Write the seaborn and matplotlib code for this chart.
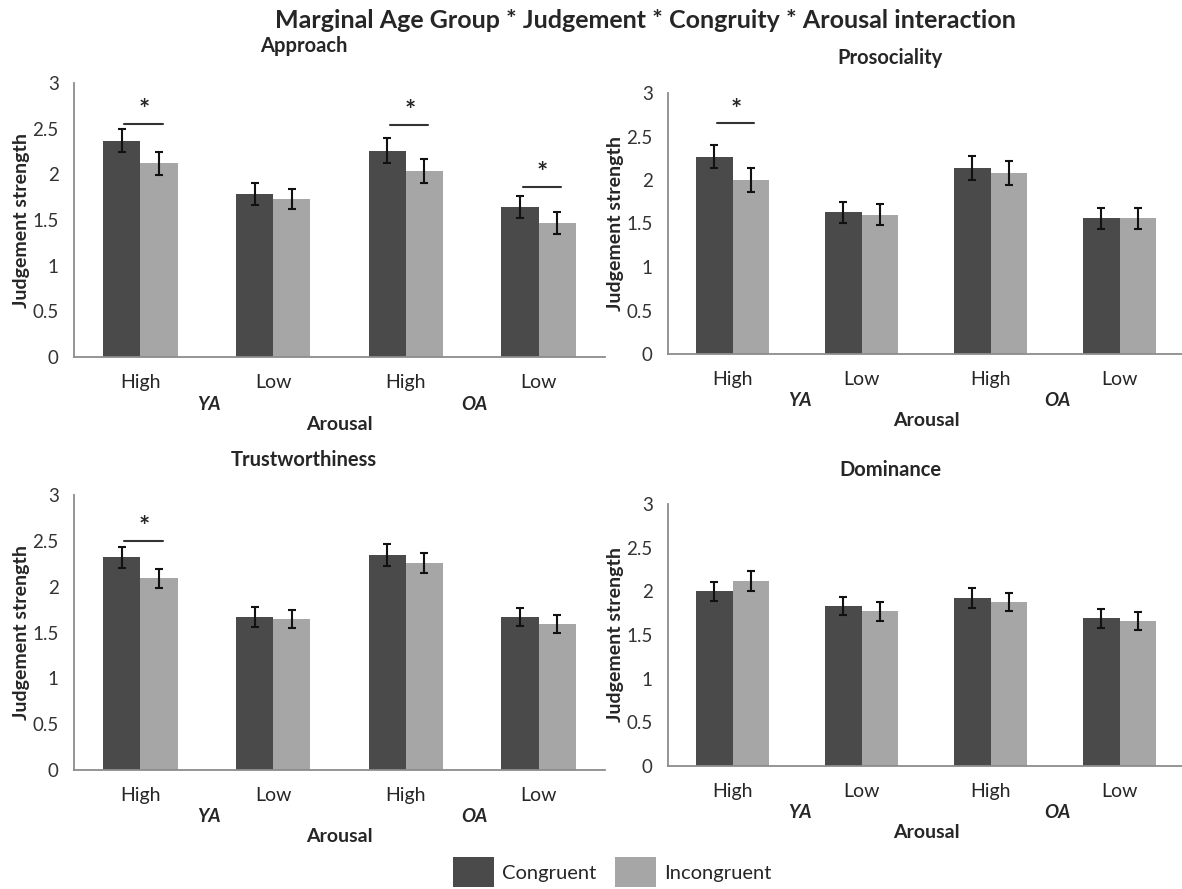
import matplotlib
matplotlib.use("Agg")
import matplotlib.pyplot as plt
from matplotlib.patches import Patch
import seaborn as sns
import pandas as pd

# ---- data ----
panels = ["Approach", "Prosociality", "Trustworthiness", "Dominance"]
age_groups = ["YA", "YA", "OA", "OA"]
arousal = ["High", "Low", "High", "Low"]
congruity = ["Congruent", "Incongruent"]

approach_cong = [2.37, 1.78, 2.26, 1.64]
approach_incong = [2.12, 1.73, 2.04, 1.47]
approach_cong_err = [0.13, 0.12, 0.14, 0.12]
approach_incong_err = [0.13, 0.11, 0.13, 0.12]

prosocial_cong = [2.27, 1.63, 2.14, 1.56]
prosocial_incong = [2.00, 1.60, 2.08, 1.56]
prosocial_cong_err = [0.135, 0.12, 0.14, 0.12]
prosocial_incong_err = [0.135, 0.12, 0.135, 0.12]

trust_cong = [2.32, 1.67, 2.35, 1.67]
trust_incong = [2.09, 1.65, 2.26, 1.59]
trust_cong_err = [0.115, 0.11, 0.12, 0.10]
trust_incong_err = [0.105, 0.10, 0.11, 0.10]

dominance_cong = [2.00, 1.83, 1.92, 1.69]
dominance_incong = [2.12, 1.77, 1.88, 1.66]
dominance_cong_err = [0.11, 0.105, 0.115, 0.105]
dominance_incong_err = [0.115, 0.105, 0.105, 0.10]

# significance markers: (category index, line height)
approach_sig = [(0, 2.55), (2, 2.54), (3, 1.86)]
prosocial_sig = [(0, 2.65)]
trust_sig = [(0, 2.50)]
dominance_sig = []

yticks = [0, 0.5, 1, 1.5, 2, 2.5, 3]
ytick_labels = ["0", "0.5", "1", "1.5", "2", "2.5", "3"]

title = "Marginal Age Group * Judgement * Congruity * Arousal interaction"

panel_data = {
    "Approach": (approach_cong, approach_incong, approach_cong_err, approach_incong_err, approach_sig),
    "Prosociality": (prosocial_cong, prosocial_incong, prosocial_cong_err, prosocial_incong_err, prosocial_sig),
    "Trustworthiness": (trust_cong, trust_incong, trust_cong_err, trust_incong_err, trust_sig),
    "Dominance": (dominance_cong, dominance_incong, dominance_cong_err, dominance_incong_err, dominance_sig),
}

# ---- style ----
sns.set_style("white")
plt.rcParams["font.family"] = ["Lato", "DejaVu Sans"]
dark = "#4a4a4a"
light = "#a6a6a6"
spine_col = "#8c8c8c"
text_col = "#262626"

fig = plt.figure(figsize=(11.82, 8.89), dpi=100)

W, H = 1182, 889
# pixel boxes: left, right, y0 (value 0), y3 (value 3)
boxes = {
    "Approach": (74, 605, 357, 83),
    "Prosociality": (668, 1184, 354, 93),
    "Trustworthiness": (74, 605, 770, 495),
    "Dominance": (668, 1184, 766, 504),
}
title_pos = {"Approach": (304, 46), "Prosociality": (890, 58),
             "Trustworthiness": (304, 460), "Dominance": (890, 470)}

cats = [f"{a}-{r}" for a, r in zip(age_groups, arousal)]

for name in panels:
    l, r, y0, y3 = boxes[name]
    ax = fig.add_axes([l / W, 1 - y0 / H, (r - l) / W, (y0 - y3) / H])
    cong, incong, ce, ie, sig = panel_data[name]
    df = pd.DataFrame({
        "cat": cats * 2,
        "Congruity": ["Congruent"] * 4 + ["Incongruent"] * 4,
        "value": list(cong) + list(incong),
    })
    sns.barplot(data=df, x="cat", y="value", hue="Congruity", order=cats,
                hue_order=congruity, palette=[dark, light], width=0.56,
                errorbar=None, saturation=1, linewidth=0, ax=ax, legend=False)
    # error bars at bar centers
    for container, vals, errs in zip(ax.containers, [cong, incong], [ce, ie]):
        xs = [b.get_x() + b.get_width() / 2 for b in container]
        ax.errorbar(xs, vals, yerr=errs, fmt="none", ecolor="#111111",
                    elinewidth=1.5, capsize=2.6, capthick=1.5, zorder=5)
    # significance
    for ci, yv in sig:
        ax.plot([ci - 0.12, ci + 0.17], [yv, yv], color="#333333", lw=1.5, zorder=5,
                clip_on=False)
        ax.text(ci + 0.03, yv + 0.02, "*", ha="center", va="bottom",
                fontsize=19, color=text_col, fontweight="bold")

    ax.set_ylim(0, 3)
    ax.set_xlim(-0.5, 3.5)
    ax.set_yticks(yticks)
    ax.set_yticklabels(ytick_labels, fontsize=13.5, color="#333333")
    ax.set_xticks(range(4))
    ax.set_xticklabels(arousal, fontsize=14, color=text_col)
    ax.set_xticks([-0.5, 0.5, 1.5, 2.5, 3.5], minor=True)
    ax.tick_params(axis="x", which="major", length=0, pad=12)
    ax.tick_params(axis="x", which="minor", length=5, width=1.1, color=spine_col)
    ax.tick_params(axis="y", which="major", length=4, width=1.1, color=spine_col, pad=7)
    for s in ["top", "right"]:
        ax.spines[s].set_visible(False)
    for s in ["left", "bottom"]:
        ax.spines[s].set_color(spine_col)
        ax.spines[s].set_linewidth(1.3)
    ax.set_xlabel("")
    ax.set_ylabel("Judgement strength", fontsize=14, fontweight="bold", color=text_col, labelpad=2)
    axh = y0 - y3
    ax.text(0.52, -47 / axh, "YA", transform=ax.get_xaxis_transform(), ha="center", va="center",
            fontsize=13.5, fontweight="bold", fontstyle="italic", color=text_col)
    ax.text(2.52, -47 / axh, "OA", transform=ax.get_xaxis_transform(), ha="center", va="center",
            fontsize=13.5, fontweight="bold", fontstyle="italic", color=text_col)
    ax.text(0.5, -67 / axh, "Arousal", transform=ax.transAxes, ha="center", va="center",
            fontsize=14, fontweight="bold", color=text_col)
    tx, ty = title_pos[name]
    fig.text(tx / W, 1 - ty / H, name, ha="center", va="center",
             fontsize=14.5, fontweight="bold", color=text_col)

fig.text(645 / W, 1 - 20 / H, title, ha="center", va="center", fontsize=18,
         fontweight="bold", color=text_col)

handles = [Patch(facecolor=dark, edgecolor="none"), Patch(facecolor=light, edgecolor="none")]
fig.legend(handles, congruity, loc="center", bbox_to_anchor=(612 / W, 0.019), ncol=2,
           frameon=False, fontsize=14.5, handlelength=2.05, handleheight=1.9,
           handletextpad=0.4, columnspacing=0.9, borderpad=0)

fig.savefig("out.png", dpi=100)
